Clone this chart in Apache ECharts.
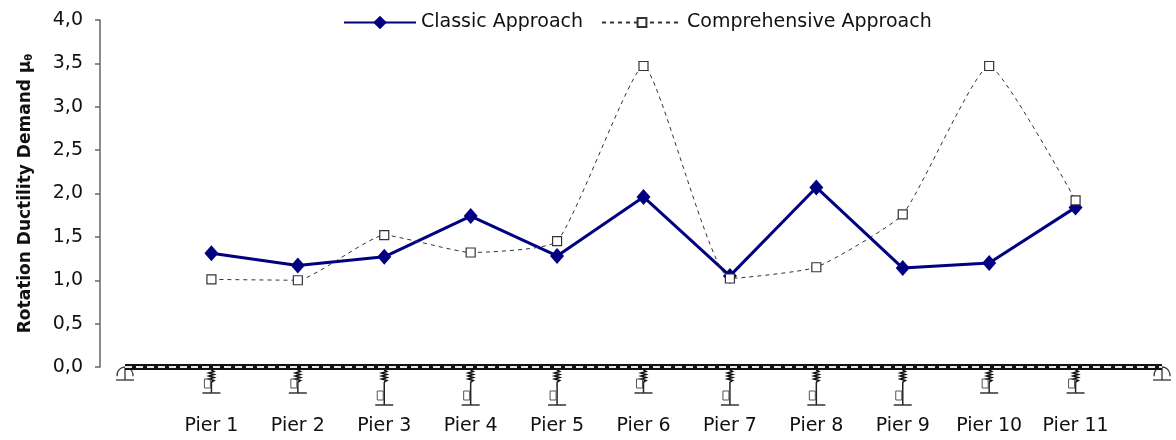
<!DOCTYPE html>
<html>
<head>
<meta charset="utf-8">
<script src="https://cdn.jsdelivr.net/npm/echarts@6/dist/echarts.min.js"></script>
<style>
html,body{margin:0;padding:0;background:#fff;}
#chart{width:1176px;height:440px;}
</style>
</head>
<body>
<div id="chart"></div>
<script>
// ---- data ----
const categories = ['', 'Pier 1', 'Pier 2', 'Pier 3', 'Pier 4', 'Pier 5', 'Pier 6', 'Pier 7', 'Pier 8', 'Pier 9', 'Pier 10', 'Pier 11', ''];
const classicApproach = [null, 1.31, 1.17, 1.27, 1.74, 1.28, 1.96, 1.05, 2.07, 1.14, 1.20, 1.84, null];
const comprehensiveApproach = [null, 1.01, 1.00, 1.52, 1.32, 1.45, 3.47, 1.02, 1.15, 1.76, 3.47, 1.92, null];
const yTicks = [0, 0.5, 1.0, 1.5, 2.0, 2.5, 3.0, 3.5, 4.0];
const seriesNames = ['Classic Approach', 'Comprehensive Approach'];
const axisTitle = 'Rotation Ductility Demand μ';
const axisTitleSub = 'θ';

// decorative bridge drawing under the axis (pier kind per pier)
const pierKinds = ['short', 'short', 'tall', 'tall', 'tall', 'short', 'tall', 'tall', 'tall', 'short', 'short'];

const FONT = 'DejaVu Sans';
const chart = echarts.init(document.getElementById('chart'));

const deckData = categories.map(() => 0);
const pierData = pierKinds.map((k, i) => [i + 1, k === 'tall' ? 1 : 0]);
const abutData = [[0], [categories.length - 1]];

function renderPier(params, api) {
  const p = api.coord([api.value(0), 0]);
  const x = p[0], y = p[1];
  const depth = api.value(1) ? 38 : 26;
  const spring = [];
  const s0 = y + 3, s1 = y + 15;
  for (let k = 0; k <= 8; k++) {
    spring.push([x + (k % 2 ? 2.5 : -2.5) * (k === 0 || k === 8 ? 0 : 1), s0 + (s1 - s0) * k / 8]);
  }
  const bot = y + depth;
  return {
    type: 'group',
    children: [
      { type: 'polyline', shape: { points: spring }, style: { stroke: '#111', lineWidth: 1.6, fill: null } },
      { type: 'line', shape: { x1: x, y1: s1, x2: x, y2: bot }, style: { stroke: '#222', lineWidth: 1.5 } },
      { type: 'rect', shape: { x: x - 7, y: bot - 14, width: 6, height: 9 }, style: { stroke: '#555', lineWidth: 1, fill: null } },
      { type: 'line', shape: { x1: x - 9, y1: bot, x2: x + 9, y2: bot }, style: { stroke: '#333', lineWidth: 1.5 } }
    ]
  };
}

function renderAbut(params, api) {
  const p = api.coord([api.value(0), 0]);
  const x = p[0], y = p[1];
  return {
    type: 'group',
    children: [
      { type: 'arc', shape: { cx: x, cy: y + 8, r: 8, startAngle: Math.PI * 0.95, endAngle: Math.PI * 2.05 }, style: { stroke: '#333', lineWidth: 1.3, fill: null } },
      { type: 'line', shape: { x1: x, y1: y, x2: x, y2: y + 13 }, style: { stroke: '#333', lineWidth: 1.3 } },
      { type: 'line', shape: { x1: x - 9, y1: y + 13, x2: x + 9, y2: y + 13 }, style: { stroke: '#333', lineWidth: 1.3 } }
    ]
  };
}

const legendText = { fontFamily: FONT, fontSize: 19, color: '#111' };

const option = {
  animation: false,
  backgroundColor: '#fff',
  textStyle: { fontFamily: FONT },
  grid: { left: 125, right: 14, top: 20, bottom: 73, containLabel: false },
  legend: [
    {
      data: [{ name: seriesNames[0] }],
      left: 338,
      top: 8,
      itemWidth: 72,
      itemHeight: 17,
      itemGap: 0,
      textStyle: legendText
    },
    {
      data: [{ name: seriesNames[1] }],
      left: 596,
      top: 8,
      itemWidth: 80,
      itemHeight: 11,
      itemGap: 0,
      textStyle: legendText
    }
  ],
  xAxis: {
    type: 'category',
    data: categories,
    boundaryGap: false,
    axisLine: { show: false },
    axisTick: { show: false },
    axisLabel: { interval: 0, margin: 50, fontFamily: FONT, fontSize: 19, color: '#111' },
    splitLine: { show: false }
  },
  yAxis: {
    type: 'value',
    min: 0,
    max: 4,
    interval: 0.5,
    offset: 25,
    axisLine: { show: true, lineStyle: { color: '#666', width: 1.5 } },
    axisTick: { show: true, inside: false, length: 5, lineStyle: { color: '#666', width: 1.5 } },
    axisLabel: {
      margin: 17,
      fontFamily: FONT,
      fontSize: 19,
      color: '#111',
      formatter: v => yTicks.indexOf(v) >= 0 ? v.toFixed(1).replace('.', ',') : ''
    },
    splitLine: { show: false },
    name: '{a|' + axisTitle + '}{s|' + axisTitleSub + '}',
    nameLocation: 'middle',
    nameGap: 66,
    nameRotate: 90,
    nameTextStyle: {
      rich: {
        a: { fontFamily: FONT, fontSize: 17, fontWeight: 'bold', color: '#111' },
        s: { fontFamily: FONT, fontSize: 10, fontWeight: 'bold', color: '#111', verticalAlign: 'bottom', padding: [7, 0, 0, 0] }
      }
    }
  },
  series: [
    {
      name: 'deck',
      type: 'line',
      data: deckData,
      symbol: 'none',
      silent: true,
      lineStyle: { color: '#111', width: 6 },
      z: 1
    },
    {
      name: 'deck2',
      type: 'line',
      data: deckData,
      symbol: 'none',
      silent: true,
      lineStyle: { color: '#e8e8e8', width: 2, type: [7, 4] },
      z: 1
    },
    {
      name: 'piers',
      type: 'custom',
      data: pierData,
      renderItem: renderPier,
      silent: true,
      z: 1
    },
    {
      name: 'abutments',
      type: 'custom',
      data: abutData,
      renderItem: renderAbut,
      silent: true,
      z: 1
    },
    {
      name: seriesNames[0],
      type: 'line',
      data: classicApproach,
      symbol: 'diamond',
      symbolSize: [14, 16],
      itemStyle: { color: '#000080' },
      lineStyle: { color: '#000080', width: 3 },
      z: 3
    },
    {
      name: seriesNames[1],
      type: 'line',
      data: comprehensiveApproach,
      smooth: 0.15,
      symbol: 'rect',
      symbolSize: 9,
      itemStyle: { color: '#fff', borderColor: '#333', borderWidth: 1.2 },
      lineStyle: { color: '#333', width: 1, type: [4, 4] },
      z: 4
    }
  ]
};
chart.setOption(option);
</script>
</body>
</html>
